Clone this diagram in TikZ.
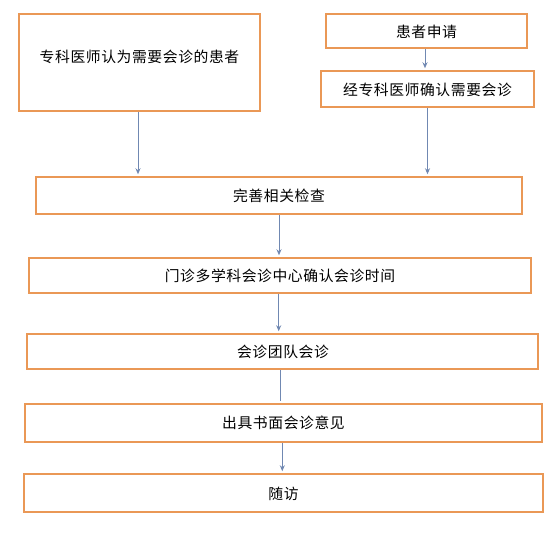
\documentclass[tikz,border=0pt]{standalone}
\usepackage{fontspec}
\newfontfamily\cjk[LetterSpace=4]{Noto Sans CJK SC}
\usetikzlibrary{arrows.meta}
\definecolor{boxorange}{RGB}{234,152,86}
\definecolor{arrowblue}{RGB}{112,136,178}
\tikzset{
  box/.style={draw=boxorange, line width=2.9pt, fill=white, rectangle, inner sep=0pt},
  lbl/.style={font=\cjk\fontsize{14.8}{17}\selectfont, text=black, inner sep=0pt},
  arr/.style={draw=arrowblue, line width=0.9pt, -{Stealth[length=6pt,width=5pt]}, shorten >=1.3pt},
  plain/.style={draw=arrowblue, line width=0.9pt, shorten >=1.3pt}
}
\begin{document}
\begin{tikzpicture}[x=1pt,y=-1pt]
\useasboundingbox[fill=white] (0,0) rectangle (558,542);
% boxes
\node[box, minimum width=241pt, minimum height=97pt] (b1) at (139.5,62.5) {};
\node[lbl] (t1) at (139.5,57) {专科医师认为需要会诊的患者};
\node[box, minimum width=201pt, minimum height=34pt] (b2) at (426.5,31) {};
\node[lbl] (t2) at (426.5,32) {患者申请};
\node[box, minimum width=213pt, minimum height=36pt] (b2b) at (427.5,89) {};
\node[lbl] (t2b) at (427.5,89.5) {经专科医师确认需要会诊};
\node[box, minimum width=486pt, minimum height=37pt] (b3) at (279,195.5) {};
\node[lbl] (t3) at (279,195.5) {完善相关检查};
\node[box, minimum width=502pt, minimum height=35pt] (b4) at (280,275.5) {};
\node[lbl] (t4) at (280,276) {门诊多学科会诊中心确认会诊时间};
\node[box, minimum width=511pt, minimum height=35pt] (b5) at (282.5,351.5) {};
\node[lbl] (t5) at (283,352) {会诊团队会诊};
\node[box, minimum width=517pt, minimum height=38pt] (b6) at (283.5,423) {};
\node[lbl] (t6) at (283.5,423) {出具书面会诊意见};
\node[box, minimum width=519pt, minimum height=38pt] (b7) at (283.5,493) {};
\node[lbl] (t7) at (283.5,493.5) {随访};
% connectors
\coordinate (a1) at ([xshift=-1.5pt]b1.south);
\draw[arr] (a1) -- (a1 |- b3.north);
\coordinate (a2) at ([xshift=-1.5pt]b2.south);
\draw[arr] (a2) -- (a2 |- b2b.north);
\coordinate (a3) at (b2b.south);
\draw[arr] (a3) -- (a3 |- b3.north);
\coordinate (a4) at (b3.south);
\draw[arr] (a4) -- (a4 |- b4.north);
\coordinate (a5) at ([xshift=-1.3pt]b4.south);
\draw[arr] (a5) -- (a5 |- b5.north);
\coordinate (a6) at ([xshift=-2.5pt]b5.south);
\draw[plain] (a6) -- (a6 |- b6.north);
\coordinate (a7) at ([xshift=-1.2pt]b6.south);
\draw[arr] (a7) -- (a7 |- b7.north);
\end{tikzpicture}
\end{document}
